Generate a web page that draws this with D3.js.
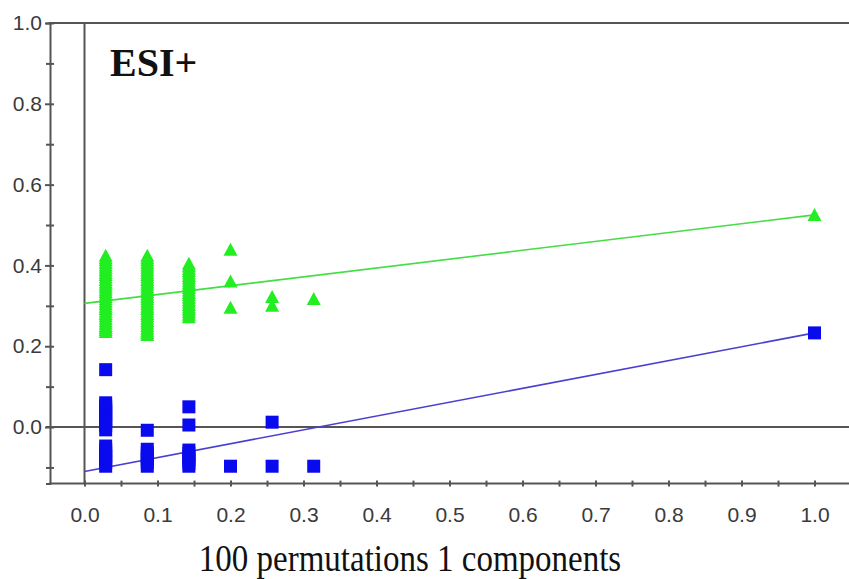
<!DOCTYPE html>
<html><head><meta charset="utf-8">
<script src="https://cdn.jsdelivr.net/npm/d3@7"></script>
<style>html,body{margin:0;padding:0;background:#fff;}svg{display:block;}</style>
</head><body>
<svg id="c" width="849" height="579"></svg>
<script>
// ---- data ----
const permCorr = [0.029, 0.086, 0.143, 0.200, 0.257, 0.314];
const r2Perm = [
  [0.424,0.418,0.412,0.406,0.400,0.394,0.388,0.382,0.376,0.370,0.364,0.358,0.352,0.346,0.340,0.334,0.328,0.322,0.316,0.310,0.304,0.298,0.292,0.286,0.280,0.274,0.268,0.262,0.256,0.250,0.245,0.240,0.235],
  [0.424,0.418,0.412,0.406,0.400,0.394,0.388,0.382,0.376,0.370,0.364,0.358,0.352,0.346,0.340,0.334,0.328,0.322,0.316,0.310,0.304,0.298,0.292,0.286,0.280,0.274,0.268,0.262,0.256,0.250,0.244,0.238,0.233,0.228],
  [0.404,0.398,0.392,0.386,0.380,0.374,0.368,0.362,0.356,0.350,0.344,0.338,0.332,0.326,0.320,0.314,0.308,0.302,0.296,0.290,0.284,0.278,0.272],
  [0.439,0.360,0.295],
  [0.322,0.300],
  [0.317]
];
const q2Perm = [
  [0.142,0.060,0.052,0.044,0.036,0.028,0.020,0.012,0.004,-0.007,-0.047,-0.056,-0.064,-0.072,-0.080,-0.088,-0.097],
  [-0.008,-0.055,-0.064,-0.072,-0.080,-0.088,-0.097],
  [0.050,0.005,-0.057,-0.065,-0.073,-0.081,-0.089,-0.097],
  [-0.097],
  [0.012,-0.097],
  [-0.097]
];
const origCorr = 1.0, origR2 = 0.525, origQ2 = 0.233;
const r2Intercept = 0.306, q2Intercept = -0.110;
const xTicks = [0,0.1,0.2,0.3,0.4,0.5,0.6,0.7,0.8,0.9,1.0];
const yTicks = [0,0.2,0.4,0.6,0.8,1.0];
const title = "ESI+";
const xLabel = "100 permutations 1 components";

// ---- drawing ----
const svg = d3.select("#c");
const x = d3.scaleLinear().domain([-0.05, 1.05]).range([48, 851]);
const y = d3.scaleLinear().domain([-0.14, 1.0]).range([483.6, 23]);
const axisCol = "#555";
const green = "#22ee22", blue = "#0a0aee";
const tickFont = "Liberation Sans, Arial, sans-serif";

// zero lines
svg.append("line").attr("x1", x(0)).attr("x2", x(0)).attr("y1", y(1)).attr("y2", y(-0.14))
  .attr("stroke", axisCol).attr("stroke-width", 2);
svg.append("line").attr("x1", 46).attr("x2", 849).attr("y1", y(0)).attr("y2", y(0))
  .attr("stroke", axisCol).attr("stroke-width", 2);
// top border
svg.append("line").attr("x1", 49).attr("x2", 849).attr("y1", y(1)).attr("y2", y(1))
  .attr("stroke", axisCol).attr("stroke-width", 2);

// Y axis
const yAxis = d3.axisLeft(y).tickValues(yTicks).tickFormat(d3.format(".1f")).tickSize(4).tickPadding(4);
const gy = svg.append("g").attr("transform", `translate(${x(-0.05)+2},0)`).call(yAxis);
gy.select(".domain").attr("stroke", axisCol).attr("stroke-width", 2);
gy.selectAll(".tick line").attr("stroke", axisCol).attr("stroke-width", 2).attr("x2", -5).attr("x1", 4);
gy.selectAll(".tick text").attr("font-family", tickFont).attr("font-size", 21).attr("fill", "#3a3a3a");
const yMinor = d3.axisLeft(y).tickValues([-0.1,0.1,0.3,0.5,0.7,0.9]).tickFormat("").tickSize(4);
const gym = svg.append("g").attr("transform", `translate(${x(-0.05)+2},0)`).call(yMinor);
gym.select(".domain").remove();
gym.selectAll(".tick line").attr("stroke", axisCol).attr("stroke-width", 2).attr("x2", -4).attr("x1", 4);

// X axis
const xAxis = d3.axisBottom(x).tickValues(xTicks).tickFormat(d3.format(".1f")).tickSize(3).tickPadding(20);
const gx = svg.append("g").attr("transform", `translate(0,${y(-0.14)})`).call(xAxis);
gx.select(".domain").attr("stroke", axisCol).attr("stroke-width", 2).attr("d", `M${x(-0.05)+1},0H849`);
gx.selectAll(".tick line").attr("stroke", axisCol).attr("stroke-width", 2).attr("y1", -3).attr("y2", 3);
gx.selectAll(".tick text").attr("font-family", tickFont).attr("font-size", 21).attr("fill", "#3a3a3a");
const xMinorVals = [0.05,0.15,0.25,0.35,0.45,0.55,0.65,0.75,0.85,0.95];
const gxm = svg.append("g").attr("transform", `translate(0,${y(-0.14)})`)
  .call(d3.axisBottom(x).tickValues(xMinorVals).tickFormat("").tickSize(3));
gxm.select(".domain").remove();
gxm.selectAll(".tick line").attr("stroke", axisCol).attr("stroke-width", 2).attr("y1", -3).attr("y2", 3);

// regression lines
svg.append("line").attr("x1", x(0)).attr("y1", y(r2Intercept)).attr("x2", x(origCorr)).attr("y2", y(origR2))
  .attr("stroke", "#44dd44").attr("stroke-width", 1.6);
svg.append("line").attr("x1", x(0)).attr("y1", y(q2Intercept)).attr("x2", x(origCorr)).attr("y2", y(origQ2))
  .attr("stroke", "#4a3fcf").attr("stroke-width", 1.6);

// points
const r2Pts = [], q2Pts = [];
permCorr.forEach((c, i) => {
  r2Perm[i].forEach(v => r2Pts.push([c, v]));
  q2Perm[i].forEach(v => q2Pts.push([c, v]));
});
r2Pts.push([origCorr, origR2]);
q2Pts.push([origCorr, origQ2]);

const tri = "M0,-7L7,6L-7,6Z";
svg.append("g").selectAll("path").data(r2Pts).join("path")
  .attr("d", tri).attr("transform", d => `translate(${x(d[0])},${y(d[1])})`)
  .attr("fill", green);
svg.append("g").selectAll("rect").data(q2Pts).join("rect")
  .attr("x", d => x(d[0]) - 6.5).attr("y", d => y(d[1]) - 6.5)
  .attr("width", 13).attr("height", 13).attr("fill", blue);

// texts
svg.append("text").attr("x", 110).attr("y", 76).text(title)
  .attr("font-family", "Liberation Serif, Times New Roman, serif").attr("font-weight", "bold")
  .attr("font-size", 40).attr("fill", "#111");
svg.append("text").attr("text-anchor", "middle").text(xLabel)
  .attr("transform", "translate(410,571) scale(1,1.15)")
  .attr("font-family", "Liberation Serif, Times New Roman, serif")
  .attr("font-size", 33).attr("fill", "#111");
</script>
</body></html>
